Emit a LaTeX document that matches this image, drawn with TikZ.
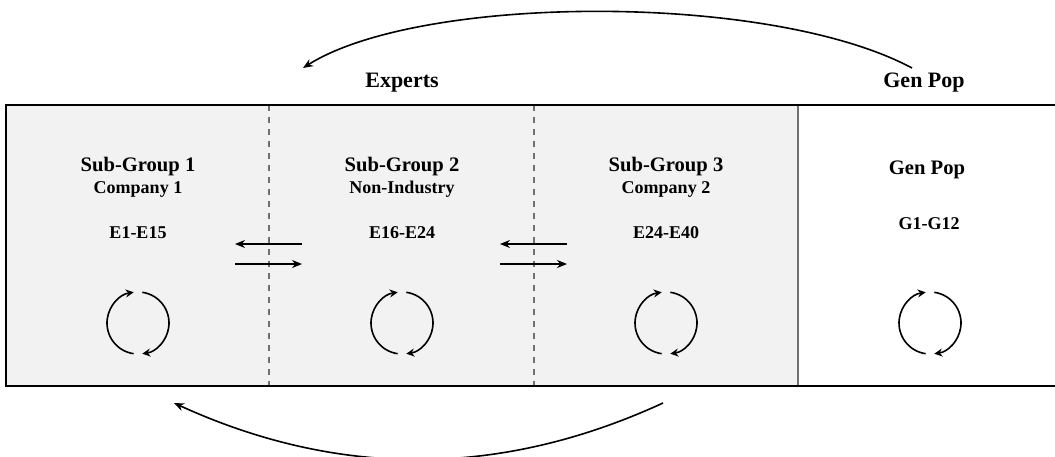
\documentclass[tikz,border=0pt]{standalone}
\usepackage{fontspec}
\setmainfont{Liberation Serif}
\usepackage{tikz}
\usetikzlibrary{positioning,arrows.meta}
\definecolor{panel}{HTML}{F2F2F2}
\definecolor{divider}{HTML}{707070}
\tikzset{
  grouptitle/.style={font=\bfseries\fontsize{10.3}{12}\selectfont, inner sep=1pt},
  groupsub/.style={font=\bfseries\fontsize{9}{11}\selectfont, inner sep=1pt},
  toplabel/.style={font=\bfseries\fontsize{11}{13}\selectfont, inner sep=1pt},
  flow/.style={-{Stealth[length=5pt,width=4pt]}, line width=0.8pt},
  cyclearc/.style={-{Stealth[length=4pt,width=4pt]}, line width=0.8pt},
  >=Stealth,
}
\begin{document}
% one pixel of the reference = 0.5pt
\begin{tikzpicture}[x=0.5pt, y=-0.5pt]
\useasboundingbox (0,0) rectangle (1055,456);
\clip (0,0) rectangle (1055,456);

% panels
\fill[panel] (6,105) rectangle (798,386);
\draw[divider, dashed, line width=0.6pt] (269,105) -- (269,386);
\draw[divider, dashed, line width=0.6pt] (534,105) -- (534,386);
\draw[divider, line width=0.6pt] (798,105) -- (798,386);
\draw[line width=1.1pt] (1070,105) -- (6,105) -- (6,386) -- (1070,386);

% top labels
\node[toplabel] (experts) at (402,83) {Experts};
\node[toplabel] (gentop) at (924,83) {Gen Pop};

% group texts
\node[grouptitle] (sg1) at (138,167) {Sub-Group 1};
\node[groupsub, below=0pt of sg1] (co1) {Company 1};
\node[groupsub] (ids1) at (138,233) {E1-E15};

\node[grouptitle] (sg2) at (402,167) {Sub-Group 2};
\node[groupsub, below=0pt of sg2] (co2) {Non-Industry};
\node[groupsub] (ids2) at (402,233) {E16-E24};

\node[grouptitle] (sg3) at (666,167) {Sub-Group 3};
\node[groupsub, below=0pt of sg3] (co3) {Company 2};
\node[groupsub] (ids3) at (666,233) {E24-E40};

\node[grouptitle] (gp) at (927,170) {Gen Pop};
\node[groupsub] (ids4) at (929,224) {G1-G12};

% cycles (y axis points down, so angles run the other way)
\foreach \cx/\nm in {138/c1, 402/c2, 666/c3, 930/c4} {
  \coordinate (\nm) at (\cx,323);
  \draw[cyclearc] ([shift={(98:31)}]\nm) arc[start angle=98, end angle=262, radius=31];
  \draw[cyclearc] ([shift={(-82:31)}]\nm) arc[start angle=-82, end angle=82, radius=31];
}

% exchange arrows
\coordinate (a1r) at (302,244); \coordinate (a1l) at (235,244);
\coordinate (b1l) at (235,264); \coordinate (b1r) at (302,264);
\coordinate (a2r) at (567,244); \coordinate (a2l) at (500,244);
\coordinate (b2l) at (500,264); \coordinate (b2r) at (567,264);
\draw[flow] (a1r) -- (a1l);
\draw[flow] (b1l) -- (b1r);
\draw[flow] (a2r) -- (a2l);
\draw[flow] (b2l) -- (b2r);

% feedback arcs
\coordinate (gpout) at (912,68);
\coordinate (expin) at (303,68);
\draw[flow] (gpout) .. controls (770,-8) and (420,-6) .. (expin);
\coordinate (s3out) at (663,403);
\coordinate (s1in) at (174,403);
\draw[flow] (s3out) .. controls (500,478) and (338,478) .. (s1in);
\end{tikzpicture}
\end{document}
